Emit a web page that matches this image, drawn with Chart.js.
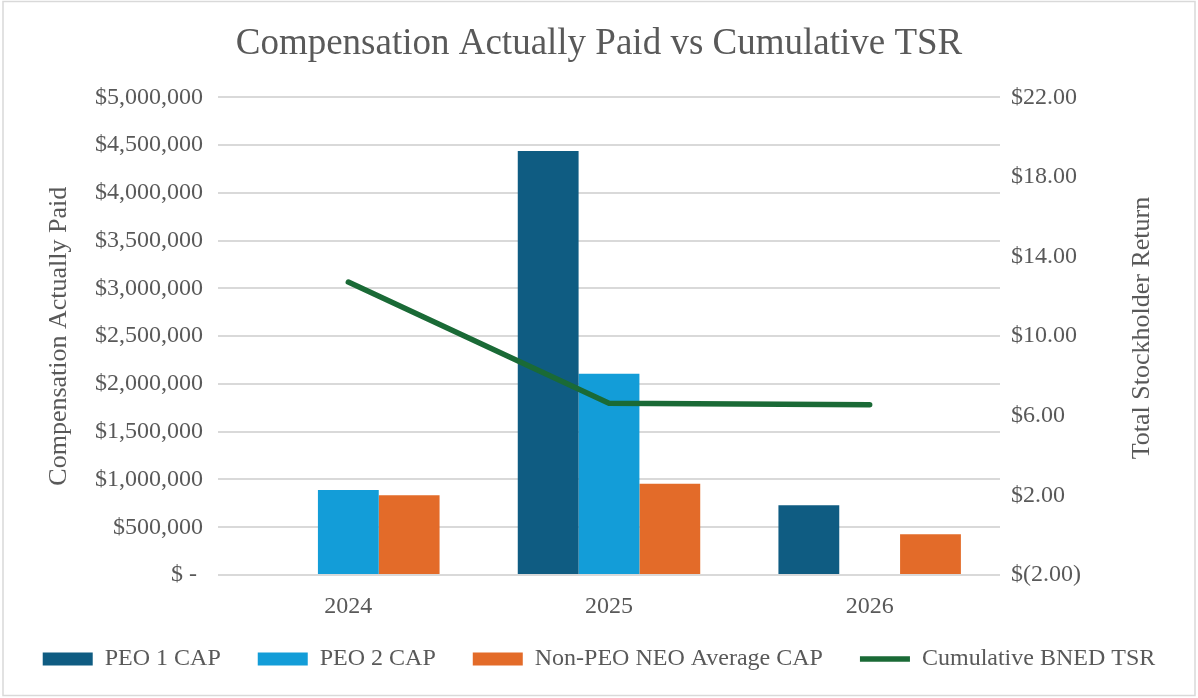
<!DOCTYPE html>
<html>
<head>
<meta charset="utf-8">
<script src="https://cdn.jsdelivr.net/npm/chart.js@4.4.1/dist/chart.umd.min.js"></script>
<style>
  html, body { margin: 0; padding: 0; background: #ffffff; }
  #wrap { position: relative; width: 1198px; height: 698px; }
</style>
</head>
<body>
<div id="wrap"><canvas id="capChart"></canvas></div>
<script>
// chart data
const years = ['2024', '2025', '2026'];
const peo1Cap = [null, 4440000, 730000];
const peo2Cap = [890000, 2108000, null];
const nonPeoCap = [834000, 956000, 426000];
const cumulativeTsr = [12.72, 6.63, 6.56];

const textColor = '#595959';
const serif = '"Liberation Serif", "Times New Roman", serif';

function money(v) {
    if (v === 0) return '$ - ';
    return '$' + v.toLocaleString('en-US');
}

function dollars(v) {
    if (v < 0) return '$(' + Math.abs(v).toFixed(2) + ')';
    return '$' + v.toFixed(2);
}

// right axis title reads bottom-to-top, plus the thin frame round the chart
const extras = {
    id: 'extras',
    afterLayout(chart) {
        // pull the legend row up a little, closer to the year labels
        chart.legend.top -= 10;
        chart.legend.bottom -= 10;
    },
    afterDraw(chart) {
        const ctx = chart.ctx;
        ctx.save();
        ctx.strokeStyle = '#d9d9d9';
        ctx.lineWidth = 1.5;
        ctx.strokeRect(3, 1.5, 1192, 694);
        ctx.translate(1142, 328);
        ctx.rotate(-Math.PI / 2);
        ctx.font = '26px ' + serif;
        ctx.fillStyle = textColor;
        ctx.textAlign = 'center';
        ctx.textBaseline = 'middle';
        ctx.fillText('Total Stockholder Return', 0, 0);
        ctx.restore();
    }
};

const ctx = document.getElementById('capChart').getContext('2d');

new Chart(ctx, {
    type: 'bar',
    data: {
        labels: years,
        datasets: [
            {
                label: 'PEO 1 CAP',
                data: peo1Cap,
                backgroundColor: '#0f5c82',
                pointStyle: 'rect',
                yAxisID: 'y',
                order: 1
            },
            {
                label: 'PEO 2 CAP',
                data: peo2Cap,
                backgroundColor: '#139dd8',
                pointStyle: 'rect',
                yAxisID: 'y',
                order: 1
            },
            {
                label: 'Non-PEO NEO Average CAP',
                data: nonPeoCap,
                backgroundColor: '#e36b29',
                pointStyle: 'rect',
                yAxisID: 'y',
                order: 1
            },
            {
                type: 'line',
                label: 'Cumulative BNED TSR',
                data: cumulativeTsr,
                borderColor: '#1a6a36',
                backgroundColor: '#1a6a36',
                borderWidth: 5.5,
                borderCapStyle: 'round',
                pointRadius: 0,
                pointStyle: 'line',
                tension: 0,
                yAxisID: 'y1',
                order: 0
            }
        ]
    },
    options: {
        responsive: true,
        maintainAspectRatio: false,
        animation: false,
        layout: {
            padding: { left: 0, right: 0, top: 0, bottom: 7 }
        },
        datasets: {
            bar: {
                categoryPercentage: 0.7,
                barPercentage: 1.0
            }
        },
        plugins: {
            title: {
                display: true,
                text: 'Compensation Actually Paid vs Cumulative TSR',
                color: textColor,
                font: { family: serif, size: 37, weight: 'normal' },
                padding: { top: 22, bottom: 31 }
            },
            legend: {
                position: 'bottom',
                labels: {
                    color: textColor,
                    font: { family: serif, size: 24 },
                    usePointStyle: true,
                    pointStyleWidth: 50,
                    boxHeight: 13,
                    padding: 37,
                    sort: function(a, b) {
                        return a.datasetIndex - b.datasetIndex;
                    }
                }
            },
            tooltip: { enabled: false }
        },
        scales: {
            x: {
                grid: { display: false },
                border: { display: false },
                ticks: {
                    color: textColor,
                    font: { family: serif, size: 24 },
                    padding: 9
                },
                afterFit: function(scale) {
                    scale.height = 45;
                }
            },
            y: {
                position: 'left',
                min: 0,
                max: 5000000,
                ticks: {
                    stepSize: 500000,
                    color: textColor,
                    font: { family: serif, size: 24 },
                    padding: 15,
                    callback: money
                },
                grid: {
                    color: '#d9d9d9',
                    lineWidth: 2,
                    drawTicks: false
                },
                border: { display: false },
                title: {
                    display: true,
                    text: 'Compensation Actually Paid',
                    color: textColor,
                    font: { family: serif, size: 26 },
                    padding: { top: 44, bottom: 0 }
                },
                afterFit: function(scale) {
                    scale.width = 218;
                }
            },
            y1: {
                position: 'right',
                min: -2,
                max: 22,
                ticks: {
                    stepSize: 4,
                    color: textColor,
                    font: { family: serif, size: 24 },
                    padding: 11,
                    callback: dollars
                },
                grid: { display: false, drawTicks: false },
                border: { display: false },
                afterFit: function(scale) {
                    scale.width = 198;
                }
            }
        }
    },
    plugins: [extras]
});
</script>
</body>
</html>
